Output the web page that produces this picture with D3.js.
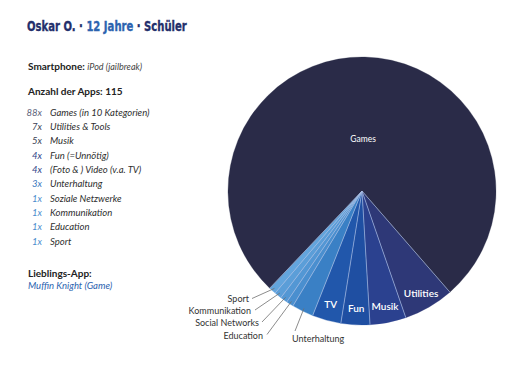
<!DOCTYPE html>
<html><head><meta charset="utf-8">
<script src="https://cdn.jsdelivr.net/npm/d3@7"></script>
<style>
html,body{margin:0;padding:0;background:#fff;}
svg{display:block;}
</style></head>
<body>
<script>
// ---- data ----
const sliceCategories = ["Utilities","Musik","Fun","TV","Unterhaltung","Education","Social Networks","Kommunikation","Sport","Games"];
const sliceValues = [7,5,4,4,3,1,1,1,1,88];
const sliceColors = ["#2e3877","#2b418f","#1f4fa2","#2157ab","#3a80c5","#4a8fcf","#5397d4","#5b9ed8","#63a5dd","#2a2b48"];
const insideLabels = ["Utilities","Musik","Fun","TV"];
const outsideLabels = ["Unterhaltung","Education","Social Networks","Kommunikation","Sport"];

const listCounts = ["88x","7x","5x","4x","4x","3x","1x","1x","1x","1x"];
const listLabels = ["Games (in 10 Kategorien)","Utilities & Tools","Musik","Fun (=Unnötig)","(Foto & ) Video (v.a. TV)","Unterhaltung","Soziale Netzwerke","Kommunikation","Education","Sport"];
const listCountColors = ["#5a5e78","#3a3f55","#3a3f55","#2d4387","#2d4387","#3a78bd","#4a8ccd","#4a8ccd","#4a8ccd","#4a8ccd"];

const titleParts = [{t:"Oskar O. · ",c:"#232f6b"},{t:"12 Jahre",c:"#2c63af"},{t:" · Schüler",c:"#232f6b"}];

// ---- layout ----
const W=530,H=380;
const cx=362, cy=191, R=134;
const svg=d3.select("body").append("svg").attr("width",W).attr("height",H);

const font="Lato, 'Open Sans', sans-serif";

// title: one text, horizontally condensed to the reference width
const titleG=svg.append("g");
const title=titleG.append("text").attr("x",0).attr("y",0)
  .attr("font-family","'DejaVu Sans', sans-serif")
  .attr("font-weight","bold").attr("font-size",13.5);
titleParts.forEach(p=>title.append("tspan").attr("fill",p.c).attr("stroke",p.c).attr("stroke-width",0.35).text(p.t));
const tw=title.node().getComputedTextLength();
titleG.attr("transform",`translate(27,31) scale(${160/tw},1)`);

// smartphone
const sm=svg.append("text").attr("x",28).attr("y",70).attr("font-family",font).attr("fill","#222");
sm.append("tspan").attr("font-weight","bold").attr("font-size",10).text("Smartphone: ");
sm.append("tspan").attr("font-style","italic").attr("font-size",9).attr("fill","#444").text("iPod (jailbreak)");

const ap=svg.append("text").attr("x",28).attr("y",95).attr("font-family",font).attr("fill","#222").attr("font-size",10)
  .attr("font-weight","bold").text("Anzahl der Apps: 115");

const rowY=d3.scaleLinear().domain([0,listLabels.length-1]).range([115.5,244.5]);
const rows=svg.append("g").attr("font-family",font).attr("font-style","italic").attr("font-size",9.5);
rows.selectAll("text.n").data(listCounts).join("text").attr("class","n")
  .attr("x",42).attr("y",(d,i)=>rowY(i)).attr("text-anchor","end")
  .attr("fill",(d,i)=>listCountColors[i]).text(d=>d);
rows.selectAll("text.l").data(listLabels).join("text").attr("class","l")
  .attr("x",50).attr("y",(d,i)=>rowY(i)).attr("fill","#2e2e2e").text(d=>d);

svg.append("text").attr("x",28).attr("y",277).attr("font-family",font).attr("font-weight","bold")
  .attr("font-size",10).attr("fill","#222").text("Lieblings-App:");
svg.append("text").attr("x",28).attr("y",289).attr("font-family",font).attr("font-style","italic")
  .attr("font-size",9.5).attr("fill","#2c63af").text("Muffin Knight (Game)");

// pie
const start=139*Math.PI/180;
const pie=d3.pie().sort(null).value(d=>d.v).startAngle(start).endAngle(start+2*Math.PI);
const arcs=pie(sliceCategories.map((c,i)=>({c,v:sliceValues[i],col:sliceColors[i]})));
const arc=d3.arc().innerRadius(0).outerRadius(R);
const g=svg.append("g").attr("transform",`translate(${cx},${cy})`);
g.selectAll("path").data(arcs).join("path").attr("d",arc).attr("fill",d=>d.data.col)
  .attr("stroke",d=>d.data.col).attr("stroke-width",0.3);
// separators
g.selectAll("line.sep").data(arcs).join("line").attr("class","sep")
  .attr("x1",0).attr("y1",0)
  .attr("x2",d=>R*Math.sin(d.startAngle)).attr("y2",d=>-R*Math.cos(d.startAngle))
  .attr("stroke","#a9bde3").attr("stroke-opacity",0.85).attr("stroke-width",0.8);

// inside labels
const pt=(a,r)=>[r*Math.sin(a),-r*Math.cos(a)];
const byName=Object.fromEntries(arcs.map(d=>[d.data.c,d]));
const gamesArc=byName["Games"];
const gp=pt((gamesArc.startAngle+gamesArc.endAngle)/2,52);
g.append("text").attr("x",gp[0]).attr("y",gp[1]).attr("dy","0.35em").attr("text-anchor","middle")
  .attr("font-family",font).attr("font-size",8.5).attr("fill","#fff").text("Games");
g.selectAll("text.in").data(insideLabels.map(n=>byName[n])).join("text").attr("class","in")
  .attr("transform",d=>{const p=pt((d.startAngle+d.endAngle)/2,118);return `translate(${p[0]},${p[1]})`;})
  .attr("dy","0.35em").attr("text-anchor","middle").attr("font-family",font)
  .attr("font-weight",600).attr("font-size",10).attr("fill","#fff").text(d=>d.data.c);

// outside labels with leader lines (label anchor positions, page coords)
const outPos={ "Sport":[249,299,"end"], "Kommunikation":[251,311,"end"], "Social Networks":[259,323,"end"],
  "Education":[263,336,"end"], "Unterhaltung":[292,339,"start"] };
const leadStart={ "Sport":[252,298.5], "Kommunikation":[255,310], "Social Networks":[262,322],
  "Education":[267,334.5], "Unterhaltung":[295,331] };
outsideLabels.forEach(n=>{
  const d=byName[n];
  const p=pt((d.startAngle+d.endAngle)/2,131);
  const s=leadStart[n];
  svg.append("line").attr("x1",s[0]).attr("y1",s[1]).attr("x2",cx+p[0]).attr("y2",cy+p[1])
    .attr("stroke","#6f6f6f").attr("stroke-width",0.8);
  const o=outPos[n];
  svg.append("text").attr("x",o[0]).attr("y",o[1]).attr("dy","0.35em").attr("text-anchor",o[2])
    .attr("font-family",font).attr("font-size",9).attr("fill","#333").text(n);
});
</script>
</body></html>
